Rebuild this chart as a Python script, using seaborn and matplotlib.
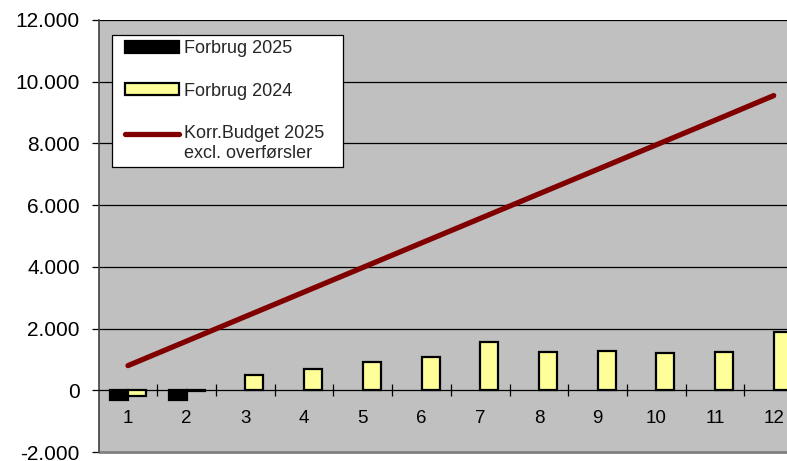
import pandas as pd
import matplotlib
matplotlib.use('Agg')
import matplotlib.pyplot as plt
import matplotlib.ticker as mticker
from matplotlib.legend_handler import HandlerPatch, HandlerLine2D
from matplotlib.patches import Rectangle
import seaborn as sns

# --- Data ---
months = [1, 2, 3, 4, 5, 6, 7, 8, 9, 10, 11, 12]
forbrug_2025_months = [1, 2]
forbrug_2025 = [-320, -300]
forbrug_2024 = [-170, -30, 500, 700, 910, 1070, 1570, 1245, 1260, 1215, 1230, 1890]
budget_2025 = [800, 1595, 2390, 3185, 3980, 4775, 5570, 6365, 7160, 7955, 8750, 9550]
y_ticks = [-2000, 0, 2000, 4000, 6000, 8000, 10000, 12000]

LBL_25 = 'Forbrug 2025'
LBL_24 = 'Forbrug 2024'
LBL_BUD = 'Korr.Budget 2025\nexcl. overførsler'


class TopLine(HandlerLine2D):
    # put the line sample next to the first line of a two-line label
    def create_artists(self, legend, orig_handle, xdescent, ydescent,
                       width, height, fontsize, trans):
        arts = super().create_artists(legend, orig_handle, xdescent, ydescent,
                                      width, height, fontsize, trans)
        for a in arts:
            a.set_ydata([y + 0.55 * fontsize for y in a.get_ydata()])
        return arts


def main():
    bars = pd.concat([
        pd.DataFrame({'Måned': forbrug_2025_months, 'Beløb': forbrug_2025, 'Serie': LBL_25}),
        pd.DataFrame({'Måned': months, 'Beløb': forbrug_2024, 'Serie': LBL_24}),
    ], ignore_index=True)
    line = pd.DataFrame({'Måned': months, 'Beløb': budget_2025})

    sns.set_theme(style='white')
    plt.rcParams['font.family'] = ['Liberation Sans', 'DejaVu Sans']

    fig = plt.figure(figsize=(7.87, 4.61), dpi=100)
    ax = fig.add_axes([98.65 / 787, 1 - 452 / 461, 1 - 98.65 / 787, (452 - 20) / 461])
    ax.set_facecolor('#C0C0C0')

    # horizontal gridlines
    for yv in y_ticks[2:]:
        ax.axhline(yv, color='black', lw=0.9, zorder=0)

    sns.barplot(
        data=bars, x='Måned', y='Beløb', hue='Serie',
        hue_order=[LBL_25, LBL_24],
        palette={LBL_25: 'black', LBL_24: '#FFFF99'}, saturation=1,
        native_scale=True, width=0.615, dodge=True,
        edgecolor='black', linewidth=1.6, errorbar=None,
        ax=ax, zorder=3,
    )
    sns.lineplot(
        data=line, x='Måned', y='Beløb', color='#800000', linewidth=3.8,
        solid_capstyle='round', label=LBL_BUD, ax=ax, zorder=4,
    )

    ax.set_xlim(0.5, 0.5 + (787 - 98.65) / 58.7)
    ax.set_ylim(-2000, 12000)
    ax.set_xlabel('')
    ax.set_ylabel('')

    # x axis sits on the zero line
    ax.spines['bottom'].set_position(('data', 0))
    ax.spines['bottom'].set_color('black')
    ax.spines['bottom'].set_linewidth(0.9)
    ax.spines['top'].set_visible(False)
    ax.spines['right'].set_visible(False)
    ax.spines['left'].set_color('#404040')
    ax.spines['left'].set_linewidth(1.2)
    ax.axhline(-2000, color='#808080', lw=2, clip_on=False, zorder=1)

    ax.set_xticks(months)
    ax.set_xticklabels([str(m) for m in months])
    ax.set_xticks([m + 0.5 for m in months[:-1]], minor=True)
    ax.tick_params(axis='x', which='major', length=0, pad=14.5, labelsize=13.5, colors='black')
    ax.tick_params(axis='x', which='minor', direction='inout', length=9, width=0.9,
                   color='black', bottom=True)

    ax.set_yticks(y_ticks)
    ax.yaxis.set_major_formatter(
        mticker.FuncFormatter(lambda v, p: f'{int(v):,}'.replace(',', '.')))
    ax.tick_params(axis='y', which='major', direction='out', length=5, width=0.9,
                   pad=8.5, labelsize=15, left=True, color='black', labelcolor='black')

    handles, labels = ax.get_legend_handles_labels()
    lookup = dict(zip(labels, handles))
    leg = ax.legend(
        [lookup[LBL_25], lookup[LBL_24], lookup[LBL_BUD]], [LBL_25, LBL_24, LBL_BUD],
        loc='upper left', bbox_to_anchor=(111.7 / 787, 1 - 165 / 461, 231 / 787, 130 / 461),
        bbox_transform=fig.transFigure, mode='expand', borderaxespad=0,
        fontsize=13, frameon=True, fancybox=False, shadow=False,
        facecolor='white', edgecolor='black', framealpha=1,
        handlelength=3.45, handleheight=0.65, handletextpad=0.25,
        labelspacing=1.4, borderpad=0.3,
        handler_map={Rectangle: HandlerPatch(xpad=0.45),
                     lookup[LBL_BUD]: TopLine(xpad=0.45)},
    )
    leg.get_frame().set_linewidth(0.9)

    fig.savefig('out.png', dpi=100, facecolor='white')
    plt.close(fig)


if __name__ == '__main__':
    main()
